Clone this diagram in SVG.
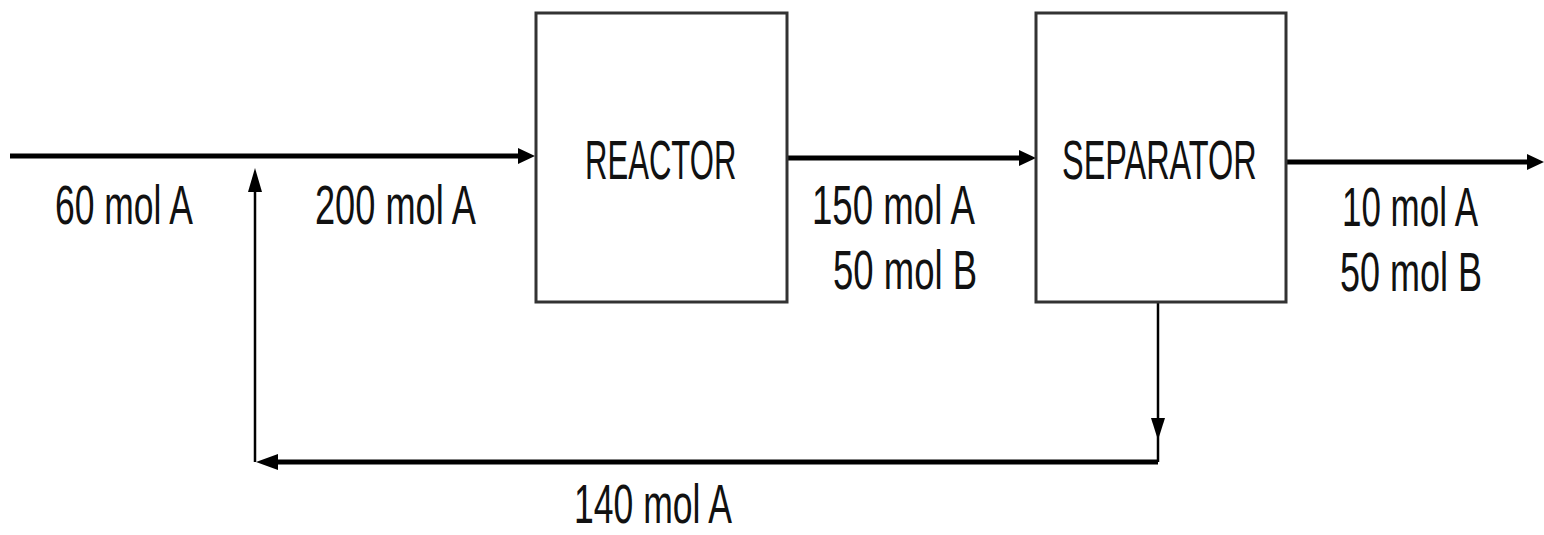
<svg xmlns="http://www.w3.org/2000/svg" width="1544" height="535" viewBox="0 0 1544 535">
<style>
.box{fill:#fff;stroke:#333;stroke-width:3}
.lbl{font-family:"Liberation Sans",Arial,sans-serif;font-size:55px;fill:#111}
.thick{stroke:#000;stroke-width:5;fill:none}
.thin{stroke:#000;stroke-width:2.5;fill:none}
.head{fill:#000}
</style>
<rect width="1544" height="535" fill="#fff"/>
<g id="connectors">
  <line class="thick" x1="10" y1="156" x2="522" y2="156"/>
  <polygon class="head" points="535,156 518,148 518,164"/>
  <line class="thick" x1="787" y1="158" x2="1022" y2="158"/>
  <polygon class="head" points="1036,158 1019,150 1019,166"/>
  <line class="thick" x1="1286" y1="162" x2="1530" y2="162"/>
  <polygon class="head" points="1544,162 1527,154 1527,170"/>
  <line class="thin" x1="1158" y1="302" x2="1158" y2="462"/>
  <polygon class="head" points="1158,440 1151,418 1165,418"/>
  <line class="thick" x1="1158" y1="462" x2="268" y2="462"/>
  <polygon class="head" points="256,462 278,454 278,470"/>
  <line class="thin" x1="255" y1="462" x2="255" y2="185"/>
  <polygon class="head" points="255,168 248,192 262,192"/>
</g>
<g id="reactor">
  <rect class="box" x="536" y="13" width="251" height="289"/>
  <text class="lbl" transform="translate(585,179) scale(0.565,1)">REACTOR</text>
</g>
<g id="separator">
  <rect class="box" x="1036" y="13" width="250" height="289"/>
  <text class="lbl" transform="translate(1062,179) scale(0.59,1)">SEPARATOR</text>
</g>
<g id="labels">
  <text class="lbl" transform="translate(55,224) scale(0.645,1)">60 mol A</text>
  <text class="lbl" transform="translate(315,224) scale(0.658,1)">200 mol A</text>
  <text class="lbl" transform="translate(812,224) scale(0.666,1)">150 mol A</text>
  <text class="lbl" transform="translate(833,289) scale(0.664,1)">50 mol B</text>
  <text class="lbl" transform="translate(1342,226) scale(0.636,1)">10 mol A</text>
  <text class="lbl" transform="translate(1340,291) scale(0.654,1)">50 mol B</text>
  <text class="lbl" transform="translate(574,523) scale(0.646,1)">140 mol A</text>
</g>
</svg>
